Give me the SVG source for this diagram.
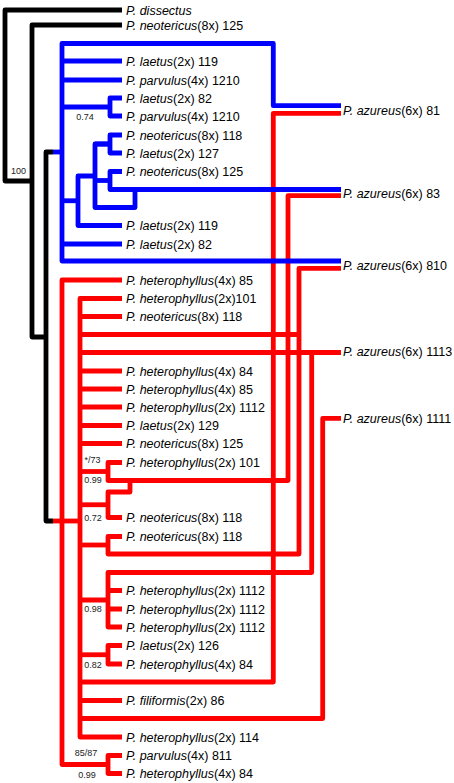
<svg xmlns="http://www.w3.org/2000/svg" width="454" height="783" viewBox="0 0 454 783">
<style>
.k{stroke:#000;}
.b{stroke:#0000FF;}
.r{stroke:#FF0000;}
path{fill:none;stroke-width:4.8;stroke-linejoin:round;stroke-linecap:butt;}
text{font-family:"Liberation Sans",Arial,sans-serif;font-size:12.5px;fill:#000;}
.i{font-style:italic;}
text.s{font-size:9px;text-anchor:middle;fill:#222;}
</style>
<rect width="454" height="783" fill="#fff"/>
<g id="connectors">
<g class="r">
<path class="r" d="M53,521 H80"/>
<path class="r" d="M122,280 H62 V764.5 H108"/>
<path class="r" d="M122,755.5 H108 V773.5 H122"/>
<path class="r" d="M122,298.5 H80 V737 H122"/>
<path class="r" d="M80,316.5 H122 M80,371 H122 M80,389 H122 M80,407 H122 M80,425.5 H122 M80,443.5 H122 M80,700.5 H122"/>
<path class="r" d="M80,334.5 H299"/>
<path class="r" d="M341,268.3 H299 V554 H108 V536.5 H122"/>
<path class="r" d="M80,545 H108"/>
<path class="r" d="M80,352.5 H341"/>
<path class="r" d="M311.7,352.5 V572.5 H108 V627 H122"/>
<path class="r" d="M108,590.5 H122 M108,609 H122 M80,600 H108"/>
<path class="r" d="M341,195.7 H288 V480.5 H108 V462.5 H122"/>
<path class="r" d="M80,471.5 H108"/>
<path class="r" d="M130,480.5 V492 H108 V517.5 H122"/>
<path class="r" d="M80,504.75 H108"/>
<path class="r" d="M341,113.3 H273.3 V682 H80"/>
<path class="r" d="M341,418.3 H322.7 V718.5 H80"/>
<path class="r" d="M80,654.75 H108"/>
<path class="r" d="M122,645.5 H108 V664 H122"/>
</g>
<g class="b">
<path class="b" d="M53,152 H62"/>
<path class="b" d="M341,105.7 H273.3 V43.5 H62 V261 H341"/>
<path class="b" d="M62,61 H122 M62,80 H122 M62,244 H122"/>
<path class="b" d="M62,107 H110"/>
<path class="b" d="M122,98 H110 V116 H122"/>
<path class="b" d="M95,144 H110"/>
<path class="b" d="M122,135 H110 V153 H122"/>
<path class="b" d="M95,180.5 H110"/>
<path class="b" d="M122,171.5 H110 V189.5 H341"/>
<path class="b" d="M110,144 H95 V207.5 H135 V189.5"/>
<path class="b" d="M95,176 H78 V225.5 H122"/>
<path class="b" d="M62,200.75 H78"/>
</g>
<g class="k">
<path class="k" d="M122,10 H5 V181 H32"/>
<path class="k" d="M122,25 H32 V337 H46"/>
<path class="k" d="M53,152 H46 V521 H53"/>
</g>
</g>
<g id="support">
<text class="s" x="18.5" y="174">100</text>
<text class="s" x="85" y="120">0.74</text>
<text class="s" x="92.5" y="463">*/73</text>
<text class="s" x="93" y="483">0.99</text>
<text class="s" x="93" y="521">0.72</text>
<text class="s" x="93" y="612">0.98</text>
<text class="s" x="93" y="668">0.82</text>
<text class="s" x="86" y="756">85/87</text>
<text class="s" x="87" y="778">0.99</text>
</g>
<g id="n-dissectus"><text x="126" y="14.5"><tspan class="i">P. dissectus</tspan></text></g>
<g id="n-neo125a"><text x="126" y="29.5"><tspan class="i">P. neotericus</tspan>(8x) 125</text></g>
<g id="n-laetus119a"><text x="126" y="65.5"><tspan class="i">P. laetus</tspan>(2x) 119</text></g>
<g id="n-parvulus1210a"><text x="126" y="84.5"><tspan class="i">P. parvulus</tspan>(4x) 1210</text></g>
<g id="n-laetus82a"><text x="126" y="102.5"><tspan class="i">P. laetus</tspan>(2x) 82</text></g>
<g id="n-parvulus1210b"><text x="126" y="120.5"><tspan class="i">P. parvulus</tspan>(4x) 1210</text></g>
<g id="n-neo118a"><text x="126" y="139.5"><tspan class="i">P. neotericus</tspan>(8x) 118</text></g>
<g id="n-laetus127"><text x="126" y="157.5"><tspan class="i">P. laetus</tspan>(2x) 127</text></g>
<g id="n-neo125b"><text x="126" y="176"><tspan class="i">P. neotericus</tspan>(8x) 125</text></g>
<g id="n-laetus119b"><text x="126" y="230"><tspan class="i">P. laetus</tspan>(2x) 119</text></g>
<g id="n-laetus82b"><text x="126" y="248.5"><tspan class="i">P. laetus</tspan>(2x) 82</text></g>
<g id="n-het85a"><text x="126" y="284.5"><tspan class="i">P. heterophyllus</tspan>(4x) 85</text></g>
<g id="n-het101a"><text x="126" y="303"><tspan class="i">P. heterophyllus</tspan>(2x)101</text></g>
<g id="n-neo118b"><text x="126" y="321"><tspan class="i">P. neotericus</tspan>(8x) 118</text></g>
<g id="n-het84a"><text x="126" y="375.5"><tspan class="i">P. heterophyllus</tspan>(4x) 84</text></g>
<g id="n-het85b"><text x="126" y="393.5"><tspan class="i">P. heterophyllus</tspan>(4x) 85</text></g>
<g id="n-het1112a"><text x="126" y="411.5"><tspan class="i">P. heterophyllus</tspan>(2x) 1112</text></g>
<g id="n-laetus129"><text x="126" y="430"><tspan class="i">P. laetus</tspan>(2x) 129</text></g>
<g id="n-neo125c"><text x="126" y="448"><tspan class="i">P. neotericus</tspan>(8x) 125</text></g>
<g id="n-het101b"><text x="126" y="467"><tspan class="i">P. heterophyllus</tspan>(2x) 101</text></g>
<g id="n-neo118c"><text x="126" y="522"><tspan class="i">P. neotericus</tspan>(8x) 118</text></g>
<g id="n-neo118d"><text x="126" y="541"><tspan class="i">P. neotericus</tspan>(8x) 118</text></g>
<g id="n-het1112b"><text x="126" y="595"><tspan class="i">P. heterophyllus</tspan>(2x) 1112</text></g>
<g id="n-het1112c"><text x="126" y="613.5"><tspan class="i">P. heterophyllus</tspan>(2x) 1112</text></g>
<g id="n-het1112d"><text x="126" y="631.5"><tspan class="i">P. heterophyllus</tspan>(2x) 1112</text></g>
<g id="n-laetus126"><text x="126" y="650"><tspan class="i">P. laetus</tspan>(2x) 126</text></g>
<g id="n-het84b"><text x="126" y="668.5"><tspan class="i">P. heterophyllus</tspan>(4x) 84</text></g>
<g id="n-filiformis86"><text x="126" y="705"><tspan class="i">P. filiformis</tspan>(2x) 86</text></g>
<g id="n-het114"><text x="126" y="741.5"><tspan class="i">P. heterophyllus</tspan>(2x) 114</text></g>
<g id="n-parvulus811"><text x="126" y="760"><tspan class="i">P. parvulus</tspan>(4x) 811</text></g>
<g id="n-het84c"><text x="126" y="778"><tspan class="i">P. heterophyllus</tspan>(4x) 84</text></g>
<g id="n-az81"><text x="343" y="114.5"><tspan class="i">P. azureus</tspan>(6x) 81</text></g>
<g id="n-az83"><text x="343" y="197.8"><tspan class="i">P. azureus</tspan>(6x) 83</text></g>
<g id="n-az810"><text x="343" y="270.2"><tspan class="i">P. azureus</tspan>(6x) 810</text></g>
<g id="n-az1113"><text x="343" y="356.2"><tspan class="i">P. azureus</tspan>(6x) 1113</text></g>
<g id="n-az1111"><text x="343" y="422.8"><tspan class="i">P. azureus</tspan>(6x) 1111</text></g>
</svg>
